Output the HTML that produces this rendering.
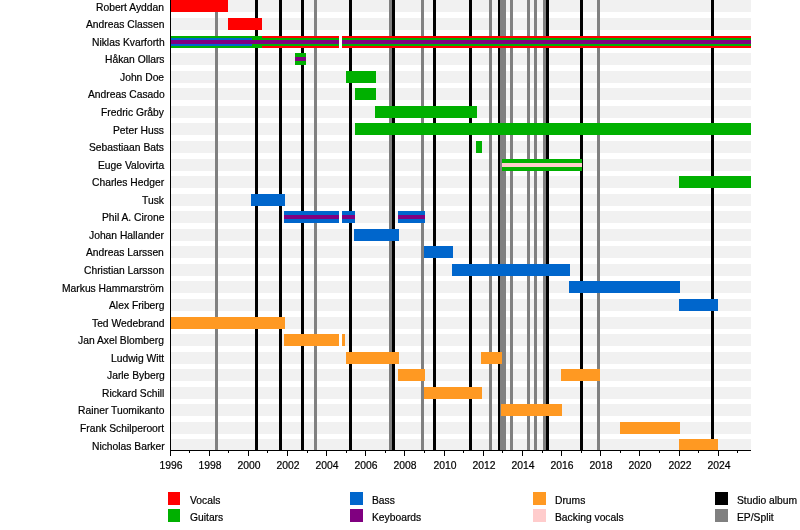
<!DOCTYPE html>
<html><head><meta charset="utf-8"><title>Timeline</title>
<style>
html,body{margin:0;padding:0;background:#fff;}
body{width:800px;height:530px;position:relative;overflow:hidden;font-family:"Liberation Sans",sans-serif;color:#000;}
.a{position:absolute;}
.n,.t,.l{will-change:transform;-webkit-text-stroke:0.2px #000;}
.n{position:absolute;right:635.7px;white-space:nowrap;font-size:10.3px;line-height:12px;height:12px;text-align:right;}
.t{position:absolute;white-space:nowrap;font-size:10.35px;line-height:12px;height:12px;width:40px;text-align:center;}
.l{position:absolute;white-space:nowrap;font-size:10.3px;line-height:12px;height:12px;}
</style></head><body>

<div class="a" style="left:171px;top:0px;width:580px;height:12px;background:#f1f1f1"></div>
<div class="a" style="left:171px;top:18px;width:580px;height:12px;background:#f1f1f1"></div>
<div class="a" style="left:171px;top:36px;width:580px;height:12px;background:#f1f1f1"></div>
<div class="a" style="left:171px;top:53px;width:580px;height:12px;background:#f1f1f1"></div>
<div class="a" style="left:171px;top:71px;width:580px;height:12px;background:#f1f1f1"></div>
<div class="a" style="left:171px;top:88px;width:580px;height:12px;background:#f1f1f1"></div>
<div class="a" style="left:171px;top:106px;width:580px;height:12px;background:#f1f1f1"></div>
<div class="a" style="left:171px;top:123px;width:580px;height:12px;background:#f1f1f1"></div>
<div class="a" style="left:171px;top:141px;width:580px;height:12px;background:#f1f1f1"></div>
<div class="a" style="left:171px;top:159px;width:580px;height:12px;background:#f1f1f1"></div>
<div class="a" style="left:171px;top:176px;width:580px;height:12px;background:#f1f1f1"></div>
<div class="a" style="left:171px;top:194px;width:580px;height:12px;background:#f1f1f1"></div>
<div class="a" style="left:171px;top:211px;width:580px;height:12px;background:#f1f1f1"></div>
<div class="a" style="left:171px;top:229px;width:580px;height:12px;background:#f1f1f1"></div>
<div class="a" style="left:171px;top:246px;width:580px;height:12px;background:#f1f1f1"></div>
<div class="a" style="left:171px;top:264px;width:580px;height:12px;background:#f1f1f1"></div>
<div class="a" style="left:171px;top:281px;width:580px;height:12px;background:#f1f1f1"></div>
<div class="a" style="left:171px;top:299px;width:580px;height:12px;background:#f1f1f1"></div>
<div class="a" style="left:171px;top:317px;width:580px;height:12px;background:#f1f1f1"></div>
<div class="a" style="left:171px;top:334px;width:580px;height:12px;background:#f1f1f1"></div>
<div class="a" style="left:171px;top:352px;width:580px;height:12px;background:#f1f1f1"></div>
<div class="a" style="left:171px;top:369px;width:580px;height:12px;background:#f1f1f1"></div>
<div class="a" style="left:171px;top:387px;width:580px;height:12px;background:#f1f1f1"></div>
<div class="a" style="left:171px;top:404px;width:580px;height:12px;background:#f1f1f1"></div>
<div class="a" style="left:171px;top:422px;width:580px;height:12px;background:#f1f1f1"></div>
<div class="a" style="left:171px;top:439px;width:580px;height:12px;background:#f1f1f1"></div>
<div class="a" style="left:255px;top:0px;width:3px;height:450px;background:#000000"></div>
<div class="a" style="left:279px;top:0px;width:3px;height:450px;background:#000000"></div>
<div class="a" style="left:301px;top:0px;width:3px;height:450px;background:#000000"></div>
<div class="a" style="left:349px;top:0px;width:3px;height:450px;background:#000000"></div>
<div class="a" style="left:392px;top:0px;width:3px;height:450px;background:#000000"></div>
<div class="a" style="left:433px;top:0px;width:3px;height:450px;background:#000000"></div>
<div class="a" style="left:469px;top:0px;width:3px;height:450px;background:#000000"></div>
<div class="a" style="left:498px;top:0px;width:3px;height:450px;background:#000000"></div>
<div class="a" style="left:546px;top:0px;width:3px;height:450px;background:#000000"></div>
<div class="a" style="left:580px;top:0px;width:3px;height:450px;background:#000000"></div>
<div class="a" style="left:711px;top:0px;width:3px;height:450px;background:#000000"></div>
<div class="a" style="left:215px;top:0px;width:3px;height:450px;background:#808080"></div>
<div class="a" style="left:314px;top:0px;width:3px;height:450px;background:#808080"></div>
<div class="a" style="left:389px;top:0px;width:3px;height:450px;background:#808080"></div>
<div class="a" style="left:421px;top:0px;width:3px;height:450px;background:#808080"></div>
<div class="a" style="left:489px;top:0px;width:3px;height:450px;background:#808080"></div>
<div class="a" style="left:500px;top:0px;width:3px;height:450px;background:#808080"></div>
<div class="a" style="left:503px;top:0px;width:3px;height:450px;background:#808080"></div>
<div class="a" style="left:510px;top:0px;width:3px;height:450px;background:#808080"></div>
<div class="a" style="left:527px;top:0px;width:3px;height:450px;background:#808080"></div>
<div class="a" style="left:534px;top:0px;width:3px;height:450px;background:#808080"></div>
<div class="a" style="left:543px;top:0px;width:3px;height:450px;background:#808080"></div>
<div class="a" style="left:597px;top:0px;width:3px;height:450px;background:#808080"></div>
<div class="a" style="left:171px;top:0px;width:57px;height:12px;background:#ff0000"></div>
<div class="a" style="left:228px;top:18px;width:34px;height:12px;background:#ff0000"></div>
<div class="a" style="left:171px;top:36px;width:81px;height:12px;background:#00b000"></div>
<div class="a" style="left:171px;top:38px;width:81px;height:8px;background:#0066cc"></div>
<div class="a" style="left:171px;top:40px;width:81px;height:4px;background:#800080"></div>
<div class="a" style="left:252px;top:36px;width:10px;height:12px;background:#00b000"></div>
<div class="a" style="left:252px;top:38px;width:10px;height:8px;background:#00b000"></div>
<div class="a" style="left:252px;top:40px;width:10px;height:4px;background:#800080"></div>
<div class="a" style="left:262px;top:36px;width:77px;height:12px;background:#ff0000"></div>
<div class="a" style="left:262px;top:38px;width:77px;height:8px;background:#00b000"></div>
<div class="a" style="left:262px;top:40px;width:77px;height:4px;background:#800080"></div>
<div class="a" style="left:342px;top:36px;width:409px;height:12px;background:#ff0000"></div>
<div class="a" style="left:342px;top:38px;width:409px;height:8px;background:#00b000"></div>
<div class="a" style="left:342px;top:40px;width:409px;height:4px;background:#800080"></div>
<div class="a" style="left:295px;top:53px;width:11px;height:12px;background:#00b000"></div>
<div class="a" style="left:295px;top:55px;width:11px;height:8px;background:#00b000"></div>
<div class="a" style="left:295px;top:57px;width:11px;height:4px;background:#800080"></div>
<div class="a" style="left:346px;top:71px;width:30px;height:12px;background:#00b000"></div>
<div class="a" style="left:355px;top:88px;width:21px;height:12px;background:#00b000"></div>
<div class="a" style="left:375px;top:106px;width:102px;height:12px;background:#00b000"></div>
<div class="a" style="left:355px;top:123px;width:396px;height:12px;background:#00b000"></div>
<div class="a" style="left:476px;top:141px;width:6px;height:12px;background:#00b000"></div>
<div class="a" style="left:502px;top:159px;width:80px;height:12px;background:#00b000"></div>
<div class="a" style="left:502px;top:161px;width:80px;height:8px;background:#00b000"></div>
<div class="a" style="left:502px;top:163px;width:80px;height:4px;background:#ffcccc"></div>
<div class="a" style="left:679px;top:176px;width:72px;height:12px;background:#00b000"></div>
<div class="a" style="left:251px;top:194px;width:34px;height:12px;background:#0066cc"></div>
<div class="a" style="left:284px;top:211px;width:55px;height:12px;background:#0066cc"></div>
<div class="a" style="left:284px;top:213px;width:55px;height:8px;background:#0066cc"></div>
<div class="a" style="left:284px;top:215px;width:55px;height:4px;background:#800080"></div>
<div class="a" style="left:342px;top:211px;width:13px;height:12px;background:#0066cc"></div>
<div class="a" style="left:342px;top:213px;width:13px;height:8px;background:#0066cc"></div>
<div class="a" style="left:342px;top:215px;width:13px;height:4px;background:#800080"></div>
<div class="a" style="left:398px;top:211px;width:27px;height:12px;background:#0066cc"></div>
<div class="a" style="left:398px;top:213px;width:27px;height:8px;background:#0066cc"></div>
<div class="a" style="left:398px;top:215px;width:27px;height:4px;background:#800080"></div>
<div class="a" style="left:354px;top:229px;width:45px;height:12px;background:#0066cc"></div>
<div class="a" style="left:424px;top:246px;width:29px;height:12px;background:#0066cc"></div>
<div class="a" style="left:452px;top:264px;width:118px;height:12px;background:#0066cc"></div>
<div class="a" style="left:569px;top:281px;width:111px;height:12px;background:#0066cc"></div>
<div class="a" style="left:679px;top:299px;width:39px;height:12px;background:#0066cc"></div>
<div class="a" style="left:171px;top:317px;width:114px;height:12px;background:#ff9922"></div>
<div class="a" style="left:284px;top:334px;width:55px;height:12px;background:#ff9922"></div>
<div class="a" style="left:342px;top:334px;width:3px;height:12px;background:#ff9922"></div>
<div class="a" style="left:346px;top:352px;width:53px;height:12px;background:#ff9922"></div>
<div class="a" style="left:481px;top:352px;width:21px;height:12px;background:#ff9922"></div>
<div class="a" style="left:398px;top:369px;width:27px;height:12px;background:#ff9922"></div>
<div class="a" style="left:561px;top:369px;width:39px;height:12px;background:#ff9922"></div>
<div class="a" style="left:424px;top:387px;width:58px;height:12px;background:#ff9922"></div>
<div class="a" style="left:501px;top:404px;width:61px;height:12px;background:#ff9922"></div>
<div class="a" style="left:620px;top:422px;width:60px;height:12px;background:#ff9922"></div>
<div class="a" style="left:679px;top:439px;width:39px;height:12px;background:#ff9922"></div>
<div class="a" style="left:339px;top:36px;width:3px;height:12px;background:#ffffff"></div>
<div class="a" style="left:339px;top:211px;width:3px;height:12px;background:#ffffff"></div>
<div class="a" style="left:339px;top:334px;width:3px;height:12px;background:#ffffff"></div>
<div class="a" style="left:170px;top:0px;width:1px;height:451px;background:#000000"></div>
<div class="a" style="left:170px;top:450px;width:581px;height:1px;background:#000000"></div>
<div class="a" style="left:170px;top:450px;width:1px;height:6px;background:#000000"></div>
<div class="t" style="left:150.5px;top:460px">1996</div>
<div class="a" style="left:189px;top:450px;width:1px;height:3px;background:#000000"></div>
<div class="a" style="left:209px;top:450px;width:1px;height:6px;background:#000000"></div>
<div class="t" style="left:189.5px;top:460px">1998</div>
<div class="a" style="left:228px;top:450px;width:1px;height:3px;background:#000000"></div>
<div class="a" style="left:248px;top:450px;width:1px;height:6px;background:#000000"></div>
<div class="t" style="left:228.5px;top:460px">2000</div>
<div class="a" style="left:267px;top:450px;width:1px;height:3px;background:#000000"></div>
<div class="a" style="left:287px;top:450px;width:1px;height:6px;background:#000000"></div>
<div class="t" style="left:267.5px;top:460px">2002</div>
<div class="a" style="left:307px;top:450px;width:1px;height:3px;background:#000000"></div>
<div class="a" style="left:326px;top:450px;width:1px;height:6px;background:#000000"></div>
<div class="t" style="left:306.5px;top:460px">2004</div>
<div class="a" style="left:346px;top:450px;width:1px;height:3px;background:#000000"></div>
<div class="a" style="left:365px;top:450px;width:1px;height:6px;background:#000000"></div>
<div class="t" style="left:345.5px;top:460px">2006</div>
<div class="a" style="left:385px;top:450px;width:1px;height:3px;background:#000000"></div>
<div class="a" style="left:404px;top:450px;width:1px;height:6px;background:#000000"></div>
<div class="t" style="left:384.5px;top:460px">2008</div>
<div class="a" style="left:424px;top:450px;width:1px;height:3px;background:#000000"></div>
<div class="a" style="left:444px;top:450px;width:1px;height:6px;background:#000000"></div>
<div class="t" style="left:424.5px;top:460px">2010</div>
<div class="a" style="left:463px;top:450px;width:1px;height:3px;background:#000000"></div>
<div class="a" style="left:483px;top:450px;width:1px;height:6px;background:#000000"></div>
<div class="t" style="left:463.5px;top:460px">2012</div>
<div class="a" style="left:502px;top:450px;width:1px;height:3px;background:#000000"></div>
<div class="a" style="left:522px;top:450px;width:1px;height:6px;background:#000000"></div>
<div class="t" style="left:502.5px;top:460px">2014</div>
<div class="a" style="left:542px;top:450px;width:1px;height:3px;background:#000000"></div>
<div class="a" style="left:561px;top:450px;width:1px;height:6px;background:#000000"></div>
<div class="t" style="left:541.5px;top:460px">2016</div>
<div class="a" style="left:581px;top:450px;width:1px;height:3px;background:#000000"></div>
<div class="a" style="left:600px;top:450px;width:1px;height:6px;background:#000000"></div>
<div class="t" style="left:580.5px;top:460px">2018</div>
<div class="a" style="left:620px;top:450px;width:1px;height:3px;background:#000000"></div>
<div class="a" style="left:639px;top:450px;width:1px;height:6px;background:#000000"></div>
<div class="t" style="left:619.5px;top:460px">2020</div>
<div class="a" style="left:659px;top:450px;width:1px;height:3px;background:#000000"></div>
<div class="a" style="left:679px;top:450px;width:1px;height:6px;background:#000000"></div>
<div class="t" style="left:659.5px;top:460px">2022</div>
<div class="a" style="left:698px;top:450px;width:1px;height:3px;background:#000000"></div>
<div class="a" style="left:718px;top:450px;width:1px;height:6px;background:#000000"></div>
<div class="t" style="left:698.5px;top:460px">2024</div>
<div class="a" style="left:737px;top:450px;width:1px;height:3px;background:#000000"></div>
<div class="n" style="top:2px">Robert Ayddan</div>
<div class="n" style="top:19px">Andreas Classen</div>
<div class="n" style="top:37px">Niklas Kvarforth</div>
<div class="n" style="top:54px">Håkan Ollars</div>
<div class="n" style="top:72px">John Doe</div>
<div class="n" style="top:89px">Andreas Casado</div>
<div class="n" style="top:107px">Fredric Gråby</div>
<div class="n" style="top:125px">Peter Huss</div>
<div class="n" style="top:142px">Sebastiaan Bats</div>
<div class="n" style="top:160px">Euge Valovirta</div>
<div class="n" style="top:177px">Charles Hedger</div>
<div class="n" style="top:195px">Tusk</div>
<div class="n" style="top:212px">Phil A. Cirone</div>
<div class="n" style="top:230px">Johan Hallander</div>
<div class="n" style="top:247px">Andreas Larssen</div>
<div class="n" style="top:265px">Christian Larsson</div>
<div class="n" style="top:283px">Markus Hammarström</div>
<div class="n" style="top:300px">Alex Friberg</div>
<div class="n" style="top:318px">Ted Wedebrand</div>
<div class="n" style="top:335px">Jan Axel Blomberg</div>
<div class="n" style="top:353px">Ludwig Witt</div>
<div class="n" style="top:370px">Jarle Byberg</div>
<div class="n" style="top:388px">Rickard Schill</div>
<div class="n" style="top:405px">Rainer Tuomikanto</div>
<div class="n" style="top:423px">Frank Schilperoort</div>
<div class="n" style="top:441px">Nicholas Barker</div>
<div class="a" style="left:168px;top:492px;width:12px;height:13px;background:#ff0000"></div>
<div class="l" style="left:190px;top:495px">Vocals</div>
<div class="a" style="left:168px;top:509px;width:12px;height:13px;background:#00b000"></div>
<div class="l" style="left:190px;top:512px">Guitars</div>
<div class="a" style="left:350px;top:492px;width:13px;height:13px;background:#0066cc"></div>
<div class="l" style="left:371.7px;top:495px">Bass</div>
<div class="a" style="left:350px;top:509px;width:13px;height:13px;background:#800080"></div>
<div class="l" style="left:371.7px;top:512px">Keyboards</div>
<div class="a" style="left:533px;top:492px;width:13px;height:13px;background:#ff9922"></div>
<div class="l" style="left:554.5px;top:495px">Drums</div>
<div class="a" style="left:533px;top:509px;width:13px;height:13px;background:#ffcccc"></div>
<div class="l" style="left:554.5px;top:512px">Backing vocals</div>
<div class="a" style="left:715px;top:492px;width:13px;height:13px;background:#000000"></div>
<div class="l" style="left:737.2px;top:495px">Studio album</div>
<div class="a" style="left:715px;top:509px;width:13px;height:13px;background:#808080"></div>
<div class="l" style="left:737.2px;top:512px">EP/Split</div>
</body></html>
